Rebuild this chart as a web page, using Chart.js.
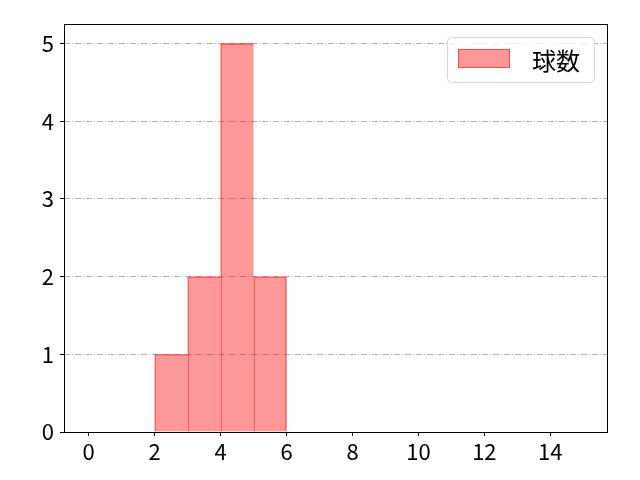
<!DOCTYPE html>
<html>
<head>
<meta charset="utf-8">
<script src="https://cdn.jsdelivr.net/npm/chart.js@4/dist/chart.umd.min.js"></script>
<style>
html,body{margin:0;padding:0;background:#fff;}
canvas{display:block;}
</style>
</head>
<body>
<canvas id="c" width="640" height="480"></canvas>
<script>
// Histogram bins (width 1, from 0 to 15) and counts
const binStarts = [0,1,2,3,4,5,6,7,8,9,10,11,12,13,14];
const counts    = [0,0,1,2,5,2,0,0,0,0,0,0,0,0,0];
const seriesLabel = '球数';
const xTickValues = [0,2,4,6,8,10,12,14];
const yTickValues = [0,1,2,3,4,5];

const FONT = "'Noto Sans CJK JP', 'DejaVu Sans', sans-serif";
const fillColor = 'rgba(255,0,0,0.4)';
const edgeColor = 'rgba(255,0,0,0.5)';

const points = binStarts.map((s, i) => ({x: s + 0.5, y: counts[i]}));

const framePlugin = {
  id: 'frame',
  afterDraw(chart) {
    const {ctx, chartArea: a} = chart;
    ctx.save();
    ctx.strokeStyle = '#000';
    ctx.lineWidth = 1;
    ctx.strokeRect(Math.round(a.left) + 0.5, Math.round(a.top) + 0.5,
                   Math.round(a.right - a.left) - 1, Math.round(a.bottom - a.top));
    // legend
    const boxW = 147;
    const boxH = 45;
    const bx = Math.round(a.right) - 14 - boxW;
    const by = Math.round(a.top) + 13;
    ctx.beginPath();
    if (ctx.roundRect) ctx.roundRect(bx + 0.5, by + 0.5, boxW, boxH, 4);
    else ctx.rect(bx + 0.5, by + 0.5, boxW, boxH);
    ctx.fillStyle = 'rgba(255,255,255,0.8)';
    ctx.fill();
    ctx.strokeStyle = '#d6d6d6';
    ctx.stroke();
    const hx = bx + 11, hy = by + 12;
    ctx.fillStyle = fillColor;
    ctx.fillRect(hx, hy, 52, 19);
    ctx.strokeStyle = edgeColor;
    ctx.strokeRect(hx + 0.5, hy + 0.5, 51, 18);
    ctx.fillStyle = '#000';
    ctx.font = '24px ' + FONT;
    ctx.textBaseline = 'middle';
    ctx.textAlign = 'left';
    ctx.fillText(seriesLabel, bx + 85, by + boxH / 2 + 1);
    ctx.restore();
  }
};

new Chart(document.getElementById('c'), {
  type: 'bar',
  data: {
    datasets: [{
      label: seriesLabel,
      data: points,
      backgroundColor: fillColor,
      borderColor: edgeColor,
      borderWidth: (ctx) => {
        const i = ctx.dataIndex;
        const next = counts[i + 1] || 0;
        return {left: 1, top: 1, bottom: 0, right: next === 0 ? 1 : 0};
      },
      borderSkipped: false,
      barPercentage: 1,
      categoryPercentage: 1,
      grouped: false
    }]
  },
  options: {
    responsive: false,
    animation: false,
    devicePixelRatio: 1,
    layout: {padding: {top: 24, right: 32, left: 0, bottom: 0}},
    plugins: {legend: {display: false}, tooltip: {enabled: false}},
    scales: {
      x: {
        type: 'linear',
        min: -0.75,
        max: 15.75,
        offset: false,
        afterBuildTicks(scale) { scale.ticks = xTickValues.map(v => ({value: v})); },
        afterFit(scale) { scale.height = 48; },
        grid: {offset: false, drawOnChartArea: false, drawTicks: true, tickLength: 4, tickColor: '#000', tickWidth: 1},
        border: {display: false},
        ticks: {color: '#000', font: {family: FONT, size: 22}, padding: 2, maxRotation: 0, autoSkip: false}
      },
      y: {
        min: 0,
        max: 5.25,
        z: 1,
        afterBuildTicks(scale) { scale.ticks = yTickValues.map(v => ({value: v})); },
        afterFit(scale) { scale.width = 64; },
        grid: {color: '#b0b0b0', lineWidth: 1, drawTicks: true, tickLength: 4, tickColor: '#000', tickWidth: 1},
        border: {display: false, dash: [6, 2, 1, 2]},
        ticks: {color: '#000', font: {family: FONT, size: 22}, padding: 6}
      }
    }
  },
  plugins: [framePlugin]
});
</script>
</body>
</html>
